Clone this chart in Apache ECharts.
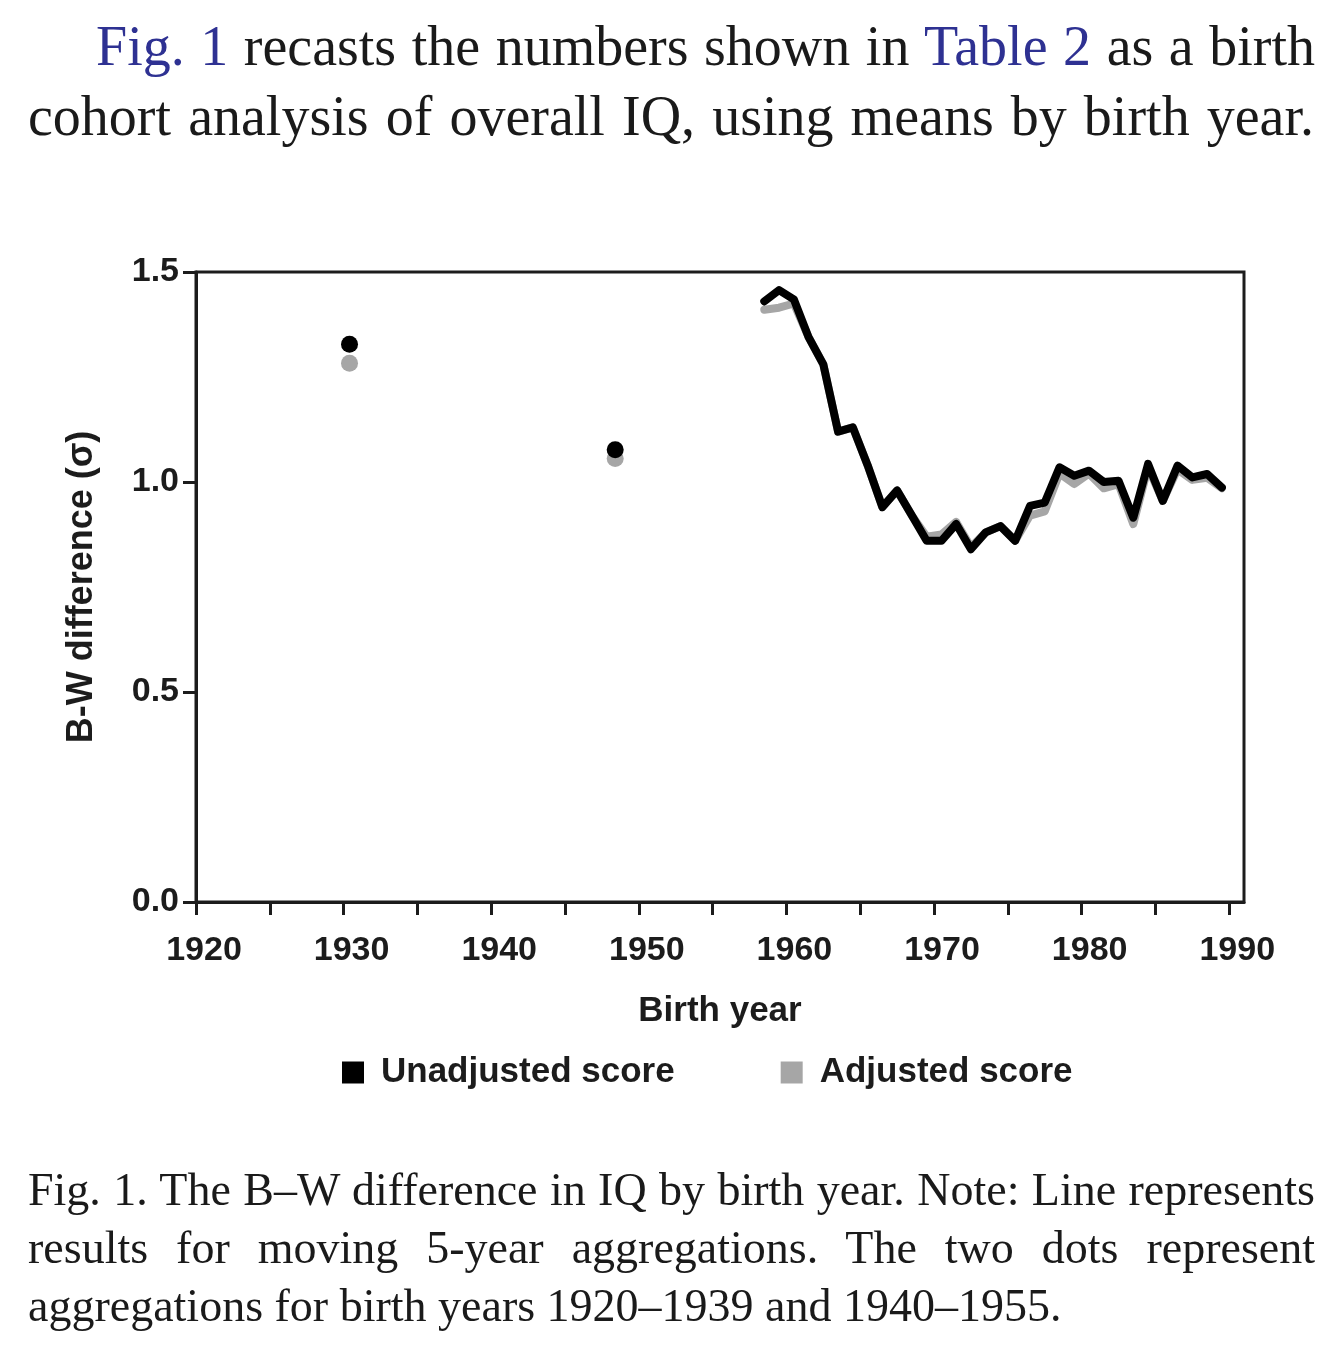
<!DOCTYPE html>
<html>
<head>
<meta charset="utf-8">
<script src="https://cdn.jsdelivr.net/npm/echarts@6/dist/echarts.min.js"></script>
<style>
  html, body { margin: 0; padding: 0; background: #fff; }
  #chart { position: absolute; left: 0; top: 0; width: 1342px; height: 1355px; }
  .ln { position: absolute; font-family: 'Liberation Serif', 'Times New Roman', serif; color: #1a1a1a; white-space: normal; z-index: 5; }
  .top { font-size: 56px; line-height: 56px; }
  .cap { font-size: 46px; line-height: 46px; }
  .just { text-align: justify; text-align-last: justify; }
  .blue { color: #2e3192; }
</style>
</head>
<body>
<div id="chart"></div>
<div class="ln top just" style="left:96px; top:18px; width:1219px;"><span class="blue">Fig. 1</span> recasts the numbers shown in <span class="blue">Table 2</span> as a birth</div>
<div class="ln top just" style="left:28px; top:88px; width:1286px;">cohort analysis of overall IQ, using means by birth year.</div>
<div class="ln cap just" style="left:28px; top:1167px; width:1287px;">Fig. 1. The B–W difference in IQ by birth year. Note: Line represents</div>
<div class="ln cap just" style="left:28px; top:1225px; width:1287px;">results for moving 5-year aggregations. The two dots represent</div>
<div class="ln cap" style="left:28px; top:1283px; width:1287px;">aggregations for birth years 1920–1939 and 1940–1955.</div>
<script>
// ---- data ----
const lineYears = [1958.5, 1959.5, 1960.5, 1961.5, 1962.5, 1963.5, 1964.5, 1965.5, 1966.5, 1967.5,
                   1968.5, 1969.5, 1970.5, 1971.5, 1972.5, 1973.5, 1974.5, 1975.5, 1976.5, 1977.5,
                   1978.5, 1979.5, 1980.5, 1981.5, 1982.5, 1983.5, 1984.5, 1985.5, 1986.5, 1987.5,
                   1988.5, 1989.5];
const unadjustedLine = [1.430, 1.457, 1.435, 1.345, 1.280, 1.120, 1.130, 1.040, 0.940, 0.980,
                        0.920, 0.860, 0.860, 0.900, 0.840, 0.880, 0.895, 0.860, 0.943, 0.951,
                        1.035, 1.015, 1.027, 1.000, 1.003, 0.915, 1.043, 0.955, 1.039, 1.011,
                        1.019, 0.987];
const adjustedLine   = [1.410, 1.415, 1.425, 1.345, 1.280, 1.120, 1.130, 1.040, 0.940, 0.980,
                        0.920, 0.870, 0.875, 0.905, 0.845, 0.880, 0.895, 0.860, 0.920, 0.930,
                        1.020, 0.995, 1.020, 0.985, 0.995, 0.900, 1.035, 0.955, 1.030, 1.005,
                        1.010, 0.985];
const dotYears = [1930.4, 1948.4];
const unadjustedDots = [1.328, 1.077];
const adjustedDots   = [1.283, 1.056];
const xTicks = [1920, 1925, 1930, 1935, 1940, 1945, 1950, 1955, 1960, 1965, 1970, 1975, 1980, 1985, 1990];
const xLabels = [1920, 1930, 1940, 1950, 1960, 1970, 1980, 1990];
const seriesNames = ['Unadjusted score', 'Adjusted score'];

const BLACK = '#000000';
const GRAY = '#a6a6a6';
const AXIS = '#1c1c1c';
const FONT = "'Liberation Sans', Arial, Helvetica, sans-serif";

const pair = (xs, ys) => xs.map((x, i) => [x, ys[i]]);

const chart = echarts.init(document.getElementById('chart'), null, { renderer: 'canvas' });
chart.setOption({
  backgroundColor: '#ffffff',
  animation: false,
  grid: {
    left: 196, right: 98, top: 272, bottom: 453,
    show: true, borderColor: AXIS, borderWidth: 3, containLabel: false
  },
  legend: {
    data: seriesNames.map((n, i) => ({ name: n, icon: 'rect', itemStyle: { color: i === 0 ? BLACK : GRAY } })),
    left: 337, top: 1050,
    itemWidth: 22, itemHeight: 22, itemGap: 106,
    textStyle: { fontFamily: FONT, fontWeight: 'bold', fontSize: 35, color: AXIS, padding: [0, 0, 0, 12] }
  },
  xAxis: {
    type: 'value', min: 1920, max: 1991,
    name: 'Birth year', nameLocation: 'middle', nameGap: 92,
    nameTextStyle: { fontFamily: FONT, fontWeight: 'bold', fontSize: 35, color: AXIS },
    axisLine: { show: true, lineStyle: { color: AXIS, width: 3 } },
    axisTick: { show: true, customValues: xTicks, length: 13, lineStyle: { color: AXIS, width: 3 } },
    axisLabel: { customValues: xLabels, margin: 32, fontFamily: FONT, fontWeight: 'bold', fontSize: 34, color: AXIS,
                 padding: [0, 0, 0, 16], formatter: v => String(v) },
    splitLine: { show: false }
  },
  yAxis: {
    type: 'value', min: 0, max: 1.5, interval: 0.5,
    name: 'B-W difference (σ)', nameLocation: 'middle', nameGap: 96,
    nameTextStyle: { fontFamily: FONT, fontWeight: 'bold', fontSize: 36, color: AXIS },
    axisLine: { show: true, lineStyle: { color: AXIS, width: 3 } },
    axisTick: { show: true, length: 13, lineStyle: { color: AXIS, width: 3 } },
    axisLabel: { margin: 17, fontFamily: FONT, fontWeight: 'bold', fontSize: 34, color: AXIS, formatter: v => v.toFixed(1) },
    splitLine: { show: false }
  },
  series: [
    { name: seriesNames[1], type: 'line', data: pair(lineYears, adjustedLine), showSymbol: false, symbol: 'none',
      lineStyle: { color: GRAY, width: 8, join: 'round', cap: 'round' }, itemStyle: { color: GRAY }, z: 2 },
    { name: seriesNames[0], type: 'line', data: pair(lineYears, unadjustedLine), showSymbol: false, symbol: 'none',
      lineStyle: { color: BLACK, width: 8, join: 'round', cap: 'round' }, itemStyle: { color: BLACK }, z: 3 },
    { name: seriesNames[1], type: 'scatter', data: pair(dotYears, adjustedDots), symbol: 'circle', symbolSize: 17,
      itemStyle: { color: GRAY, opacity: 1 }, z: 2 },
    { name: seriesNames[0], type: 'scatter', data: pair(dotYears, unadjustedDots), symbol: 'circle', symbolSize: 17,
      itemStyle: { color: BLACK, opacity: 1 }, z: 3 }
  ]
});
</script>
</body>
</html>
